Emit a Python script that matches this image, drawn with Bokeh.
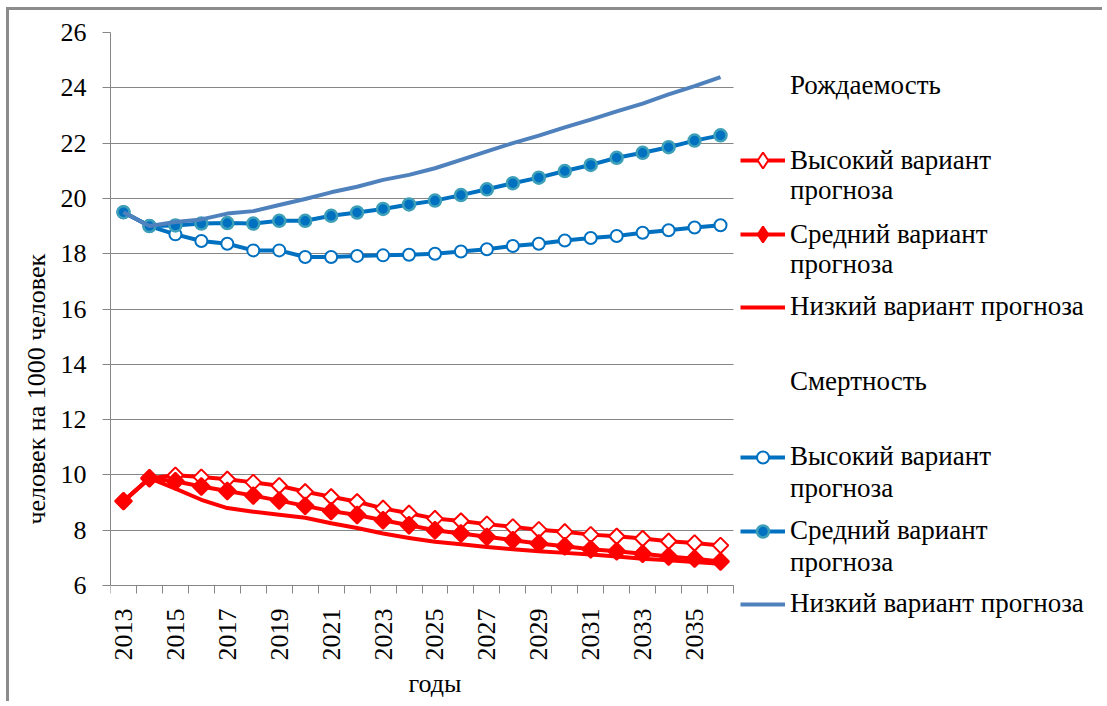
import numpy as np
from bokeh.plotting import figure
from bokeh.models import Range1d, FixedTicker, Legend, LegendItem
from bokeh.embed import file_html
from bokeh.resources import INLINE

years = list(range(2013, 2037))
y_ticks = list(range(6, 27, 2))

# "Рождаемость" legend group (red)
red_high = [9.05, 9.88, 9.99, 9.92, 9.84, 9.73, 9.61, 9.39, 9.21, 9.03, 8.79, 8.61,
            8.42, 8.33, 8.22, 8.12, 8.02, 7.94, 7.84, 7.78, 7.70, 7.60, 7.54, 7.45]
red_mid = [9.05, 9.88, 9.77, 9.58, 9.42, 9.25, 9.07, 8.88, 8.69, 8.55, 8.36, 8.18,
           8.00, 7.88, 7.76, 7.64, 7.52, 7.42, 7.31, 7.24, 7.15, 7.05, 6.97, 6.87]
red_low = [9.05, 9.88, 9.50, 9.10, 8.80, 8.67, 8.56, 8.45, 8.25, 8.08, 7.88, 7.72,
           7.58, 7.49, 7.39, 7.31, 7.24, 7.18, 7.12, 7.05, 6.97, 6.91, 6.85, 6.79]

# "Смертность" legend group (blue)
blue_high = [19.5, 19.0, 18.70, 18.46, 18.36, 18.12, 18.12, 17.88, 17.88, 17.92, 17.94, 17.96,
             18.00, 18.08, 18.16, 18.28, 18.36, 18.48, 18.57, 18.64, 18.76, 18.85, 18.95, 19.03]
blue_mid = [19.5, 19.0, 19.02, 19.09, 19.11, 19.09, 19.19, 19.19, 19.37, 19.49, 19.62, 19.78,
            19.92, 20.12, 20.33, 20.55, 20.75, 20.99, 21.21, 21.47, 21.65, 21.85, 22.09, 22.28]
blue_low = [19.5, 19.0, 19.15, 19.24, 19.45, 19.54, 19.76, 19.98, 20.22, 20.42, 20.67, 20.85,
            21.09, 21.39, 21.70, 22.00, 22.27, 22.57, 22.85, 23.15, 23.43, 23.76, 24.06, 24.39]

FONT = "Liberation Serif"
FS = "26px"
LEG_FS = "27px"
TITLE_FS = "26px"
GRAY = "#868686"
RED = "#FF0000"
BLUE = "#0070C0"
BLUE_LOW = "#4F81BD"
TEAL = "#3E9FB8"
LW = 4

# geometry (page pixels)
W, H = 1096, 694
PAGE_X0, PAGE_Y0 = 9, 10
B_LEFT, B_TOP, B_RIGHT, B_BOTTOM = 101, 22, 0, 4
PLOT_W_PX = 623     # width of the data area (2012.5 .. 2036.5)
PLOT_H_PX = 553     # height of the data area (6 .. 26)
frame_w = W - B_LEFT - B_RIGHT
frame_h = H - B_TOP - B_BOTTOM
x0, x1 = years[0] - 0.5, years[-1] + 0.5
px_per_x = PLOT_W_PX / (x1 - x0)
px_per_y = PLOT_H_PX / (y_ticks[-1] - y_ticks[0])

p = figure(width=W, height=H, output_backend="svg", toolbar_location=None,
           x_range=Range1d(x0, x0 + frame_w / px_per_x),
           y_range=Range1d(y_ticks[-1] - frame_h / px_per_y, y_ticks[-1]),
           min_border_left=B_LEFT, min_border_right=B_RIGHT,
           min_border_top=B_TOP, min_border_bottom=B_BOTTOM)
p.styles = {"margin-left": "6px", "margin-top": "7px",
            "border-top": "3px solid #8c8c8c", "border-left": "3px solid #8c8c8c"}
p.outline_line_color = None
p.background_fill_color = "white"
p.border_fill_color = "white"

# axes
p.xaxis.fixed_location = y_ticks[0]
p.xaxis.bounds = (x0, x1)
p.yaxis.bounds = (y_ticks[0], y_ticks[-1])
p.xaxis.ticker = FixedTicker(ticks=years[::2], minor_ticks=[y - 0.5 for y in years] + [x1])
p.yaxis.ticker = FixedTicker(ticks=y_ticks)
for ax in (p.xaxis[0], p.yaxis[0]):
    ax.axis_line_color = GRAY
    ax.axis_line_width = 1
    ax.major_label_text_font = FONT
    ax.major_label_text_font_size = FS
    ax.major_label_text_color = "black"
    ax.axis_label_text_font = FONT
    ax.axis_label_text_font_size = TITLE_FS
    ax.axis_label_text_color = "black"
    ax.axis_label_text_font_style = "normal"

p.xaxis.major_tick_out = 0
p.xaxis.major_tick_in = 0
p.xaxis.minor_tick_out = 8
p.xaxis.minor_tick_in = 0
p.xaxis.minor_tick_line_color = GRAY
p.xaxis.major_label_orientation = np.pi / 2
p.xaxis.major_label_standoff = 15
p.xaxis.axis_label = "\u00a0" * 4 + "годы"
p.xaxis.axis_label_standoff = 5

p.yaxis.major_tick_out = 8
p.yaxis.major_tick_in = 0
p.yaxis.major_tick_line_color = GRAY
p.yaxis.minor_tick_line_color = None
p.yaxis.major_label_standoff = 16
p.yaxis.axis_label = "человек на 1000 человек" + "\u00a0" * 7
p.yaxis.axis_label_standoff = 7

p.xgrid.grid_line_color = None
g = p.ygrid[0]
g.ticker = FixedTicker(ticks=y_ticks)
if "cross_bounds" in g.properties():
    g.cross_bounds = (x0, x1)
    g.grid_line_color = GRAY
    g.grid_line_width = 1
else:
    g.grid_line_color = None
    p.segment(x0=[x0] * len(y_ticks), x1=[x1] * len(y_ticks), y0=y_ticks, y1=y_ticks,
              line_color=GRAY, line_width=1)

# series
rh_line = p.line(years, red_high, line_color=RED, line_width=LW, line_join="round")
rh_leg = p.scatter(years, red_high, marker="diamond", size=13,
                   fill_color="white", line_color=RED, line_width=2)   # legend sample, hidden under the markers
rh_mark = p.scatter(years, red_high, marker="square", angle=np.pi / 4, size=11,
                    fill_color="white", line_color=RED, line_width=2)
rm_line = p.line(years, red_mid, line_color=RED, line_width=LW, line_join="round")
rm_leg = p.scatter(years, red_mid, marker="diamond", size=13,
                   fill_color=RED, line_color=RED, line_width=2)
rm_mark = p.scatter(years, red_mid, marker="square", angle=np.pi / 4, size=12,
                    fill_color=RED, line_color=RED, line_width=2)
rl_line = p.line(years, red_low, line_color=RED, line_width=LW, line_join="round")

bh_line = p.line(years, blue_high, line_color=BLUE, line_width=LW, line_join="round")
bh_mark = p.scatter(years, blue_high, marker="circle", size=12,
                    fill_color="white", line_color=BLUE, line_width=2)
bm_line = p.line(years, blue_mid, line_color=BLUE, line_width=LW, line_join="round")
bm_mark = p.scatter(years, blue_mid, marker="circle", size=12,
                    fill_color=BLUE, line_color=TEAL, line_width=2.5)
bl_line = p.line(years, blue_low, line_color=BLUE_LOW, line_width=LW, line_join="round")

blank = p.line(years, blue_low, line_alpha=0)

# legend: one row per Legend so each line sits where it does in the reference
rows = [
    ("Рождаемость", [blank], 86, 30),
    ("Высокий вариант", [rh_line, rh_leg], 160, 40),
    ("прогноза", [blank], 191, 30),
    ("Средний вариант", [rm_line, rm_leg], 234, 40),
    ("прогноза", [blank], 265, 30),
    ("Низкий вариант прогноза", [rl_line], 307, 30),
    ("Смертность", [blank], 382, 30),
    ("Высокий вариант", [bh_line, bh_mark], 457, 30),
    ("прогноза", [blank], 489, 30),
    ("Средний вариант", [bm_line, bm_mark], 531, 30),
    ("прогноза", [blank], 563, 30),
    ("Низкий вариант прогноза", [bl_line], 604, 30),
]
frame_left_page = PAGE_X0 + B_LEFT
frame_bottom_page = PAGE_Y0 + H - B_BOTTOM
for label, rends, yc, gh in rows:
    leg = Legend(items=[LegendItem(label=label, renderers=rends)],
                 location=(740 - frame_left_page, frame_bottom_page - (yc + gh / 2)),
                 padding=0, margin=0, spacing=0,
                 glyph_width=45, glyph_height=gh, label_height=gh, label_standoff=5,
                 label_text_font=FONT, label_text_font_size=LEG_FS, label_text_color="black",
                 border_line_color=None, background_fill_alpha=0)
    p.add_layout(leg, "center")

open("out.html", "w").write(file_html(p, INLINE))
